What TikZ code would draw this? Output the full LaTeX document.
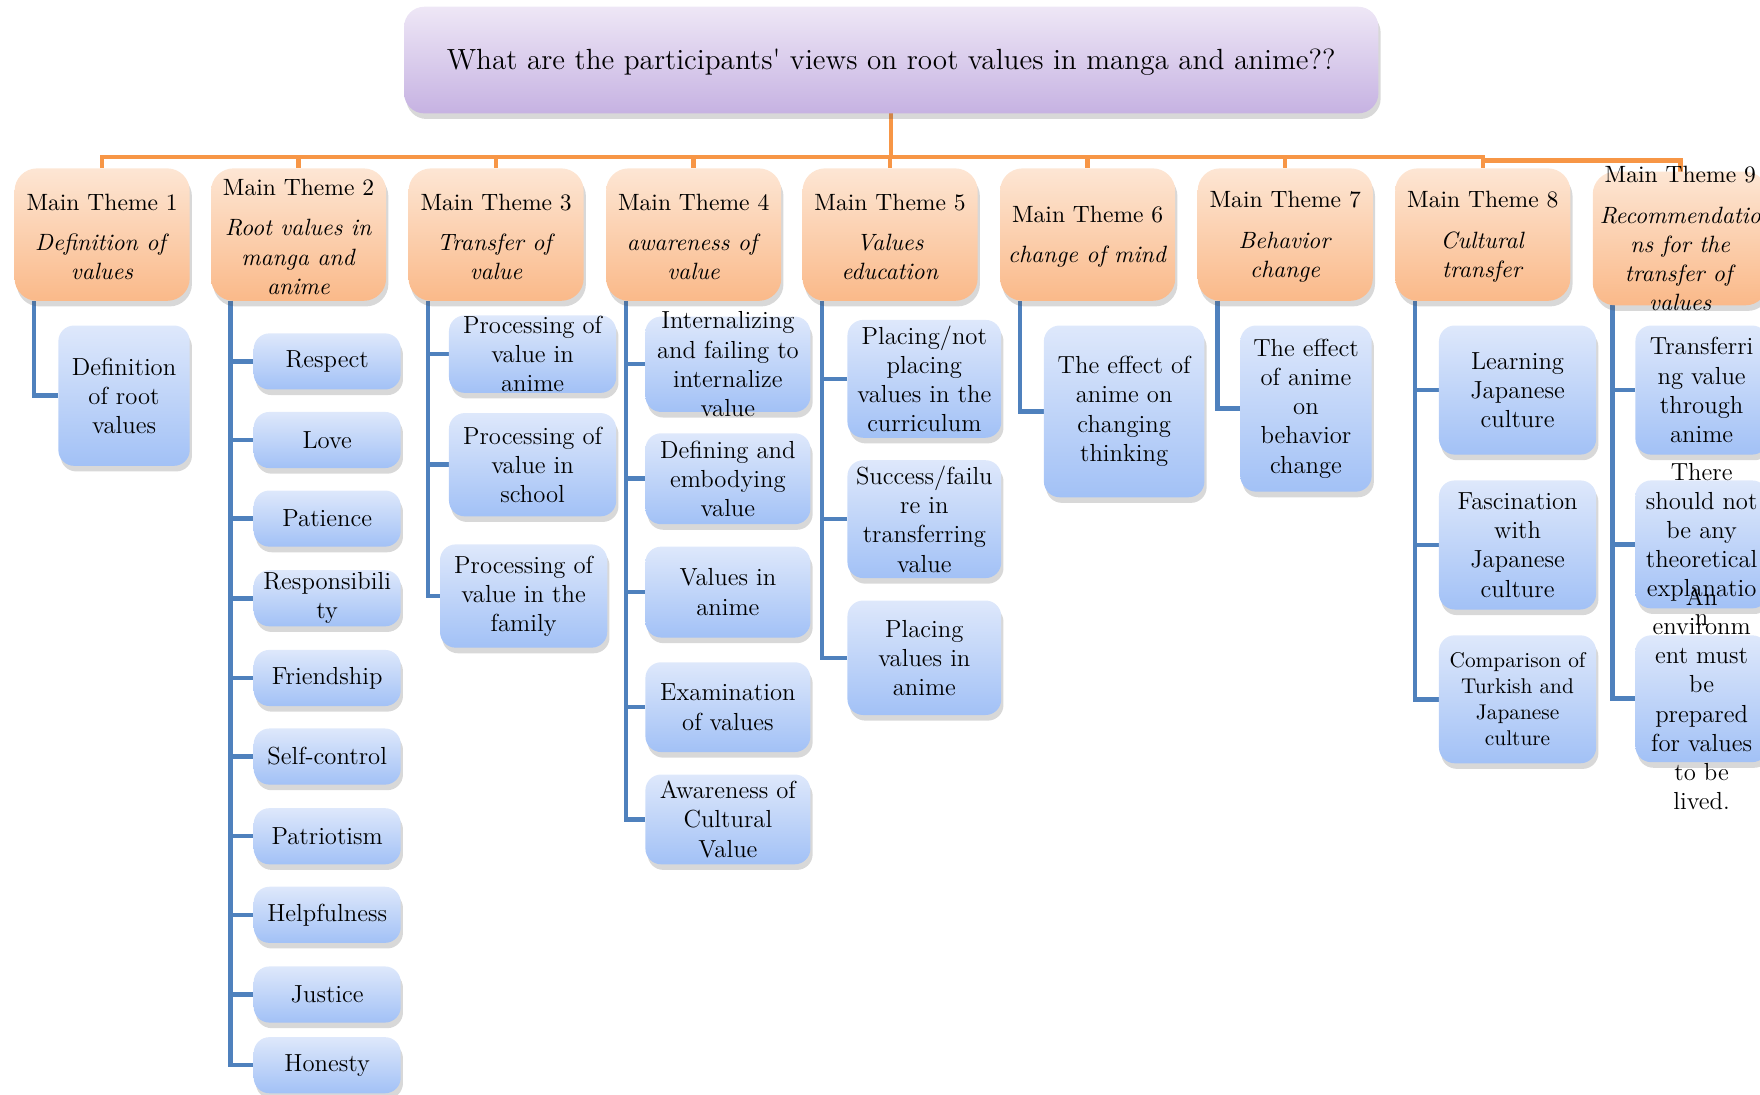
\documentclass[tikz,border=0pt]{standalone}
\usetikzlibrary{shadows,calc}
\pgfdeclarelayer{lines}
\pgfdeclarelayer{boxes}
\pgfsetlayers{lines,boxes,main}
\definecolor{orline}{RGB}{247,150,70}
\definecolor{blline}{RGB}{79,129,189}
\definecolor{bltop}{RGB}{222,232,251}
\definecolor{blbot}{RGB}{162,193,246}
\definecolor{ortop}{RGB}{253,230,212}
\definecolor{orbot}{RGB}{250,185,137}
\definecolor{putop}{RGB}{238,231,246}
\definecolor{pubot}{RGB}{198,178,226}
\tikzset{
 basebox/.style={inner sep=0pt, outer sep=0pt, draw=none,
   drop shadow={shadow xshift=1pt, shadow yshift=-2.5pt, opacity=0.22, fill=black!70}},
 bluebox/.style={basebox, rounded corners=7pt, top color=bltop, bottom color=blbot},
 orangebox/.style={basebox, rounded corners=10pt, top color=ortop, bottom color=orbot},
 purplebox/.style={basebox, rounded corners=9pt, top color=putop, bottom color=pubot},
 bluetxt/.style={align=center, inner sep=0pt, font=\fontsize{11}{13}\selectfont},
 orangetxt/.style={align=center, inner sep=0pt, font=\fontsize{10.5}{13}\selectfont},
 purpletxt/.style={align=center, inner sep=0pt, font=\fontsize{13}{16}\selectfont},
 orln/.style={draw=orline, line width=2pt},
 blln/.style={draw=blline, line width=2pt},
}
% name, x1, y1, x2, y2, kind, extra text options, text
\newcommand\BB[8]{%
 \begin{pgfonlayer}{boxes}
 \node[#6box, minimum width={(#4-#2)*0.5pt}, minimum height={(#5-#3)*0.5pt}] (#1) at ({(#2+#4)/2},{(#3+#5)/2}) {};
 \end{pgfonlayer}
 \node[#6txt,#7] (#1t) at (#1.center) {#8};}
\begin{document}
\begin{tikzpicture}[x=0.5pt,y=-0.5pt]
\useasboundingbox (0,0) rectangle (1568,975);
% title
\BB{Q}{360}{6}{1228}{101}{purple}{yshift=-1pt}{What are the participants\textquotesingle\ views on root values in manga and anime??}
% themes
\BB{T1}{13}{150}{169}{268}{orange}{yshift=-1pt}{Main Theme 1\\[5pt]\textit{Definition of}\\\textit{values}}
\BB{T2}{188}{150}{344}{268}{orange}{yshift=-1pt}{Main Theme 2\\[5pt]\textit{Root values in}\\\textit{manga and}\\\textit{anime}}
\BB{T3}{364}{150}{520}{268}{orange}{yshift=-1pt}{Main Theme 3\\[5pt]\textit{Transfer of}\\\textit{value}}
\BB{T4}{540}{150}{696}{268}{orange}{yshift=-1pt}{Main Theme 4\\[5pt]\textit{awareness of}\\\textit{value}}
\BB{T5}{715}{150}{871}{268}{orange}{yshift=-1pt}{Main Theme 5\\[5pt]\textit{Values}\\\textit{education}}
\BB{T6}{891}{150}{1047}{268}{orange}{yshift=-1pt}{Main Theme 6\\[5pt]\textit{change of mind}}
\BB{T7}{1067}{150}{1223}{268}{orange}{yshift=-1pt}{Main Theme 7\\[5pt]\textit{Behavior}\\\textit{change}}
\BB{T8}{1243}{150}{1399}{268}{orange}{yshift=-1pt}{Main Theme 8\\[5pt]\textit{Cultural}\\\textit{transfer}}
\BB{T9}{1419}{153}{1575}{272}{orange}{}{Main Theme 9\\[5pt]\textit{Recommendatio}\\\textit{ns for the}\\\textit{transfer of}\\\textit{values}}
% theme 1
\BB{A1}{52}{290}{169}{415}{blue}{}{Definition\\of root\\values}
% theme 2
\BB{B1}{226}{297}{357}{347}{blue}{}{Respect}
\BB{B2}{226}{367}{357}{417}{blue}{}{Love}
\BB{B3}{226}{437}{357}{487}{blue}{}{Patience}
\BB{B4}{226}{508}{357}{558}{blue}{}{Responsibili\\ty}
\BB{B5}{226}{579}{357}{629}{blue}{}{Friendship}
\BB{B6}{226}{649}{357}{699}{blue}{}{Self-control}
\BB{B7}{226}{720}{357}{770}{blue}{}{Patriotism}
\BB{B8}{226}{790}{357}{840}{blue}{}{Helpfulness}
\BB{B9}{226}{861}{357}{911}{blue}{}{Justice}
\BB{B10}{226}{924}{357}{974}{blue}{}{Honesty}
% theme 3
\BB{C1}{400}{281}{549}{350}{blue}{}{Processing of\\value in\\anime}
\BB{C2}{400}{368}{549}{460}{blue}{}{Processing of\\value in\\school}
\BB{C3}{392}{485}{541}{577}{blue}{}{Processing of\\value in the\\family}
% theme 4
\BB{D1}{575}{282}{722}{367}{blue}{}{Internalizing\\and failing to\\internalize\\value}
\BB{D2}{575}{386}{722}{467}{blue}{}{Defining and\\embodying\\value}
\BB{D3}{575}{487}{722}{568}{blue}{}{Values in\\anime}
\BB{D4}{575}{590}{722}{670}{blue}{}{Examination\\of values}
\BB{D5}{575}{690}{722}{770}{blue}{}{Awareness of\\Cultural\\Value}
% theme 5
\BB{E1}{755}{285}{892}{390}{blue}{}{Placing/not\\placing\\values in the\\curriculum}
\BB{E2}{755}{410}{892}{515}{blue}{}{Success/failu\\re in\\transferring\\value}
\BB{E3}{755}{535}{892}{637}{blue}{}{Placing\\values in\\anime}
% theme 6
\BB{F1}{930}{290}{1073}{443}{blue}{}{The effect of\\anime on\\changing\\thinking}
% theme 7
\BB{G1}{1105}{290}{1222}{438}{blue}{}{The effect\\of anime\\on\\behavior\\change}
% theme 8
\BB{H1}{1282}{290}{1422}{405}{blue}{}{Learning\\Japanese\\culture}
\BB{H2}{1282}{428}{1422}{543}{blue}{}{Fascination\\with\\Japanese\\culture}
\BB{H3}{1282}{566}{1422}{680}{blue}{font=\fontsize{9.5}{11.5}\selectfont}{Comparison of\\Turkish and\\Japanese\\culture}
% theme 9
\BB{I1}{1457}{290}{1575}{405}{blue}{}{Transferri\\ng value\\through\\anime}
\BB{I2}{1457}{428}{1575}{542}{blue}{}{There\\should not\\be any\\theoretical\\explanatio\\n}
\BB{I3}{1457}{566}{1575}{679}{blue}{}{An\\environm\\ent must\\be\\prepared\\for values\\to be\\lived.}
% connectors
\begin{pgfonlayer}{lines}
\coordinate (hub) at (794,140);
\coordinate (hub9) at (1321,143);
\draw[orln] (Q.south) -- (hub);
\foreach \t in {T1,T2,T3,T4,T5,T6,T7,T8} \draw[orln] (hub) -| (\t.north);
\draw[orln] (hub) -| (hub9) -| (T9.north);
\foreach \t in {T1,T2,T3,T4,T5,T6,T7,T8,T9}
  \coordinate (\t s) at ($(\t.south west)+(17.5,0)$);
\draw[blln] (T1s) |- (A1.west);
\foreach \c in {B1,B2,B3,B4,B5,B6,B7,B8,B9,B10} \draw[blln] (T2s) |- (\c.west);
\foreach \c in {C1,C2,C3} \draw[blln] (T3s) |- (\c.west);
\foreach \c in {D1,D2,D3,D4,D5} \draw[blln] (T4s) |- (\c.west);
\foreach \c in {E1,E2,E3} \draw[blln] (T5s) |- (\c.west);
\draw[blln] (T6s) |- (F1.west);
\draw[blln] (T7s) |- (G1.west);
\foreach \c in {H1,H2,H3} \draw[blln] (T8s) |- (\c.west);
\foreach \c in {I1,I2,I3} \draw[blln] (T9s) |- (\c.west);
\end{pgfonlayer}
\end{tikzpicture}
\end{document}
